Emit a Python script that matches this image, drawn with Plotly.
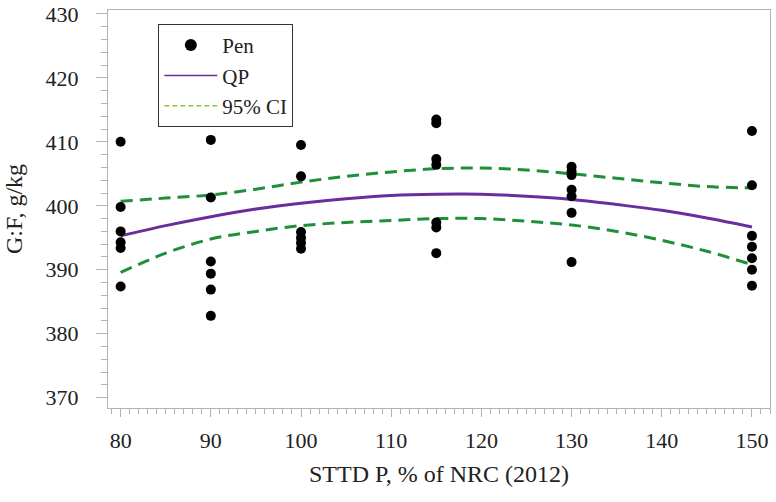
import plotly.graph_objects as go

# Pen observations
pen_x = [80]*6 + [90]*6 + [100]*6 + [115]*7 + [130]*7 + [150]*7
pen_y = [410.0, 399.8, 396.0, 394.3, 393.4, 387.4,
         410.3, 401.3, 391.3, 389.4, 386.9, 382.8,
         409.5, 404.6, 395.9, 395.0, 394.2, 393.3,
         413.5, 412.9, 407.3, 406.4, 397.4, 396.6, 392.6,
         406.1, 405.4, 404.8, 402.5, 401.5, 398.9, 391.2,
         411.7, 403.2, 395.3, 393.6, 391.8, 390.0, 387.5]

# Fitted curve and confidence band
curve_x = [80, 85, 90, 95, 100, 105, 110, 115, 120, 125, 130, 135, 140, 145, 150]
qp_y = [395.3, 396.9, 398.3, 399.5, 400.4, 401.1, 401.6, 401.8, 401.8, 401.5, 401.0, 400.2, 399.3, 398.1, 396.7]
ci_upper = [400.7, 401.2, 401.7, 402.6, 403.7, 404.6, 405.3, 405.8, 405.9, 405.6, 405.0, 404.3, 403.6, 403.0, 402.8]
ci_lower = [389.6, 392.6, 394.8, 396.0, 396.9, 397.4, 397.7, 398.0, 398.0, 397.6, 397.0, 396.0, 394.6, 392.9, 390.8]

x_ticks = [80, 90, 100, 110, 120, 130, 140, 150]
y_ticks = [370, 380, 390, 400, 410, 420, 430]

FONT = "Liberation Serif"
PURPLE = "#6b2d9c"
GREEN = "#1f8f3a"
LEGEND_GREEN = "#8cc43c"
AXIS_GRAY = "#b3b3b3"

fig = go.Figure()

fig.add_trace(go.Scatter(x=curve_x, y=ci_upper, mode="lines",
                         line=dict(color=GREEN, width=3, dash="12px,7px", shape="spline"),
                         showlegend=False, hoverinfo="skip"))
fig.add_trace(go.Scatter(x=curve_x, y=ci_lower, mode="lines",
                         line=dict(color=GREEN, width=3, dash="12px,7px", shape="spline"),
                         showlegend=False, hoverinfo="skip"))
fig.add_trace(go.Scatter(x=curve_x, y=qp_y, mode="lines",
                         line=dict(color=PURPLE, width=3, shape="spline"),
                         showlegend=False))
fig.add_trace(go.Scatter(x=pen_x, y=pen_y, mode="markers",
                         marker=dict(color="black", size=10), showlegend=False))

# legend entries
fig.add_trace(go.Scatter(x=[None], y=[None], mode="markers", marker=dict(color="black", size=12), name="Pen"))
fig.add_trace(go.Scatter(x=[None], y=[None], mode="lines", line=dict(color=PURPLE, width=1.5), name="QP"))
fig.add_trace(go.Scatter(x=[None], y=[None], mode="lines",
                         line=dict(color=LEGEND_GREEN, width=1.5, dash="5px,3px"), name="95% CI"))

axis_common = dict(
    showline=True, mirror=True, linecolor=AXIS_GRAY, linewidth=1,
    ticks="outside", tickcolor=AXIS_GRAY, tickwidth=1,
    showgrid=False, zeroline=False, automargin=False,
    tickfont=dict(family=FONT, size=22, color="#222"),
)

fig.update_layout(
    width=776, height=502,
    margin=dict(l=108, r=6, t=10, b=94),
    plot_bgcolor="white", paper_bgcolor="white",
    font=dict(family=FONT, color="#222"),
    xaxis=dict(range=[78.6, 152.0], tickvals=x_ticks, ticklen=8, ticklabelstandoff=5,
               minor=dict(dtick=1, tick0=80, ticks="outside", ticklen=5, tickcolor=AXIS_GRAY),
               title=dict(text="STTD P, % of NRC (2012)", font=dict(family=FONT, size=24), standoff=12),
               **axis_common),
    yaxis=dict(range=[368.4, 430.6], tickvals=y_ticks, ticklen=11,
               minor=dict(dtick=2, tick0=370, ticks="outside", ticklen=6, tickcolor=AXIS_GRAY),
               title=dict(text="G:F, g/kg", font=dict(family=FONT, size=24), standoff=16),
               ticklabelstandoff=13,
               **axis_common),
    legend=dict(x=0.076, y=0.965, xanchor="left", yanchor="top",
                bgcolor="white", bordercolor="#333", borderwidth=1,
                font=dict(family=FONT, size=21, color="#222"),
                itemwidth=53, tracegroupgap=0),
)

fig.write_html("out.html", config={"displayModeBar": False},
               post_script="document.body.style.margin='0px';")
